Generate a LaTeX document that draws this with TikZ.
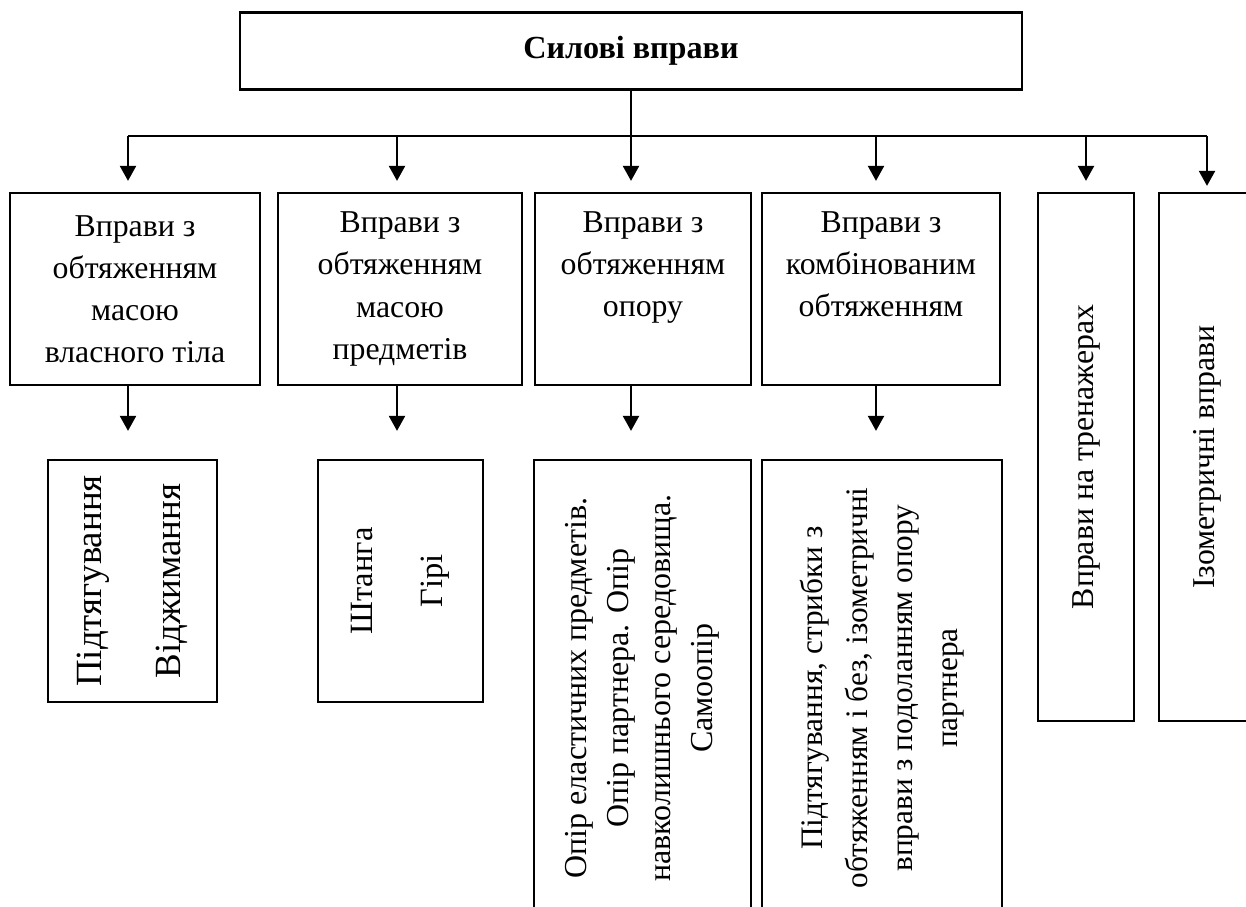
\documentclass[tikz,border=0pt]{standalone}
\usepackage{fontspec}
\setmainfont{Liberation Serif}
\usetikzlibrary{arrows.meta}
\tikzset{
    box/.style={draw, line width=1.3pt, inner sep=0pt, align=center, font=\fontsize{18.1}{24}\selectfont},
    upper/.style={text depth=28pt},
    vtext/.style={rotate=90, align=center, inner sep=0pt},
    bus/.style={draw, line width=1.3pt},
    arr/.style={draw, line width=1.3pt, -{Triangle[length=0.3cm, width=0.32cm]}, shorten >=0.22cm}
}

\begin{document}
\begin{tikzpicture}
\useasboundingbox (0,0) rectangle (24.92,-18.12);
\clip (0,0) rectangle (24.92,-18.12);

% Top box
\node[box, minimum width=15.64cm, minimum height=1.54cm, font=\fontsize{18.3}{20}\selectfont\bfseries] (title) at (12.62,-1.02) {Силові вправи};

% Second row
\node[box, minimum width=5cm, minimum height=3.84cm] (g1) at (2.70,-5.78) {Вправи з\\обтяженням\\масою\\власного тіла};
\node[box, minimum width=4.88cm, minimum height=3.84cm] (g2) at (8.00,-5.78) {Вправи з\\обтяженням\\масою\\предметів};
\node[box, upper, minimum width=4.32cm, minimum height=3.84cm] (g3) at (12.86,-5.78) {Вправи з\\обтяженням\\опору};
\node[box, upper, minimum width=4.76cm, minimum height=3.84cm] (g4) at (17.62,-5.78) {Вправи з\\комбінованим\\обтяженням};
\node[box, minimum width=1.92cm, minimum height=10.56cm] (g5) at (21.72,-9.14) {};
\node[box, minimum width=1.92cm, minimum height=10.56cm] (g6) at (24.14,-9.14) {};
\node[vtext, font=\fontsize{18.1}{24}\selectfont] (g5t) at (g5) {Вправи на тренажерах};
\node[vtext, font=\fontsize{18.1}{24}\selectfont] (g6t) at (g6) {Ізометричні вправи};

% Third row
\node[box, minimum width=3.38cm, minimum height=4.84cm] (h1) at (2.65,-11.62) {};
\node[box, minimum width=3.30cm, minimum height=4.84cm] (h2) at (8.01,-11.62) {};
\node[box, minimum width=4.34cm, minimum height=9.12cm] (h3) at (12.85,-13.76) {};
\node[box, minimum width=4.80cm, minimum height=9.12cm] (h4) at (17.64,-13.76) {};
\node[vtext, font=\fontsize{21}{45}\selectfont] (h1t) at (h1) {Підтягування\\Віджимання};
\node[vtext, font=\fontsize{18.5}{40}\selectfont] (h2t) at (h2) {Штанга\\Гірі};
\node[vtext, font=\fontsize{18.2}{24}\selectfont] (h3t) at (h3) {Опір еластичних предметів.\\Опір партнера. Опір\\навколишнього середовища.\\Самоопір};
\node[vtext, font=\fontsize{17.8}{25.5}\selectfont] (h4t) at (h4) {Підтягування, стрибки з\\обтяженням і без, ізометричні\\вправи з подоланням опору\\партнера};

% Bus line
\coordinate (b1) at (2.56,-2.72);
\coordinate (b2) at (7.94,-2.72);
\coordinate (b3) at (12.62,-2.72);
\coordinate (b4) at (17.52,-2.72);
\coordinate (b5) at (21.72,-2.72);
\coordinate (b6) at (24.14,-2.72);
\draw[bus] (title.south) -- (b3);
\draw[bus] (b1) -- (b6);

% Arrows to second row
\draw[arr] (b1) -- (b1 |- g1.north);
\draw[arr] (b2) -- (b2 |- g2.north);
\draw[arr] (b3) -- (b3 |- g3.north);
\draw[arr] (b4) -- (b4 |- g4.north);
\draw[arr] (b5) -- (b5 |- g5.north);
\draw[arr, shorten >=0.12cm] (b6) -- (b6 |- g6.north);

% Arrows to third row
\draw[arr, shorten >=0.56cm] (b1 |- g1.south) -- (b1 |- h1.north);
\draw[arr, shorten >=0.56cm] (b2 |- g2.south) -- (b2 |- h2.north);
\draw[arr, shorten >=0.56cm] (b3 |- g3.south) -- (b3 |- h3.north);
\draw[arr, shorten >=0.56cm] (b4 |- g4.south) -- (b4 |- h4.north);
\end{tikzpicture}
\end{document}
